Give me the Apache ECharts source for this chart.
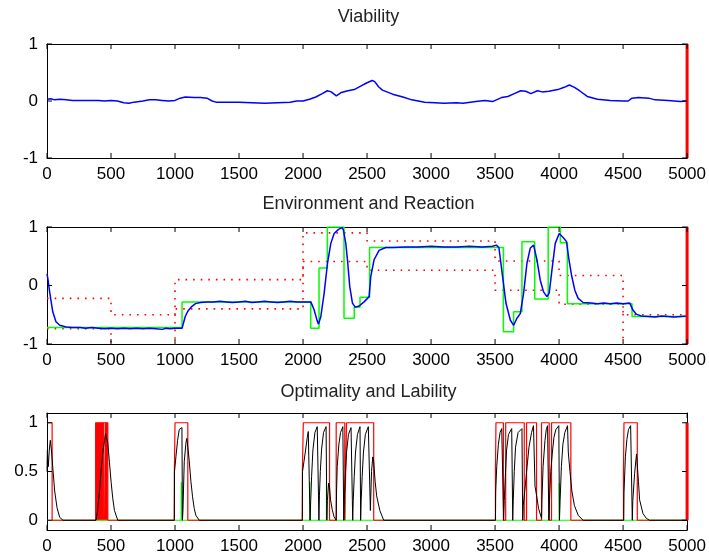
<!DOCTYPE html>
<html><head><meta charset="utf-8">
<script src="https://cdn.jsdelivr.net/npm/echarts@6/dist/echarts.min.js"></script>
<style>html,body{margin:0;padding:0;background:#fff}#c{width:709px;height:558px}</style>
</head><body><div id="c"></div>
<script>
// ---------- DATA ----------
const panelTitles = ['Viability', 'Environment and Reaction', 'Optimality and Lability'];
const xTickStep = 500;
const xMin = 0, xMax = 5000;
const xTickValues = [0, 500, 1000, 1500, 2000, 2500, 3000, 3500, 4000, 4500, 5000];
const yTickValues = [[-1, 0, 1], [-1, 0, 1], [0, 0.5, 1]];
const endMarkX = 5000;

// Panel 1: viability (blue)
const viability = [[0,0.03],[30,0.04],[60,0.02],[100,0.03],[150,0.02],[200,0.01],[300,0.01],[400,0.01],[450,0.0],[500,0.01],[550,0.0],[600,-0.03],[640,-0.04],[680,-0.02],[750,0.0],[800,0.02],[850,0.02],[900,0.01],[950,0.0],[1000,0.01],[1040,0.05],[1080,0.07],[1150,0.06],[1200,0.06],[1250,0.05],[1290,0.0],[1320,-0.02],[1400,-0.02],[1500,-0.02],[1600,-0.03],[1700,-0.04],[1800,-0.03],[1900,-0.02],[1950,0.0],[2000,0.0],[2050,0.03],[2100,0.07],[2150,0.13],[2190,0.18],[2220,0.16],[2260,0.09],[2300,0.15],[2350,0.18],[2400,0.2],[2450,0.26],[2500,0.32],[2540,0.36],[2560,0.34],[2590,0.25],[2620,0.19],[2700,0.12],[2780,0.07],[2850,0.02],[2950,-0.02],[3030,-0.03],[3100,-0.04],[3200,-0.03],[3250,-0.04],[3350,-0.01],[3420,0.01],[3480,-0.01],[3550,0.06],[3600,0.08],[3650,0.13],[3700,0.18],[3740,0.17],[3780,0.13],[3830,0.18],[3870,0.16],[3920,0.17],[3990,0.2],[4040,0.24],[4080,0.28],[4120,0.24],[4160,0.18],[4220,0.08],[4300,0.03],[4400,0.01],[4500,0.0],[4540,0.0],[4570,0.05],[4620,0.06],[4700,0.05],[4750,0.02],[4850,0.01],[4950,-0.01],[5000,0.0]];

// Panel 2: environment bounds (red dotted), target (green), reaction (blue)
const envTimes = [0, 500, 1000, 2000, 2500, 3500, 4000, 4500, 5000];
const envUpper = [-0.22, -0.5, 0.1, 0.9, 0.76, 0.42, 0.17, -0.5, -0.5];
const envLower = [-0.74, -1.03, -0.4, 0.41, 0.26, -0.08, -0.32, -1.03, -1.03];
const targetTimes = [0, 1055, 2060, 2125, 2190, 2320, 2400, 2445, 2520, 3565, 3645, 3710, 3810, 3915, 4010, 4065, 4570, 5000];
const targetValues = [-0.72, -0.28, -0.73, 0.3, 1.0, -0.56, -0.37, -0.2, 0.65, -0.79, -0.45, 0.75, -0.23, 1.0, 0.73, -0.31, -0.53, -0.53];
const reaction = [[0,0.2],[8,0.1],[20,-0.1],[45,-0.45],[70,-0.62],[100,-0.68],[150,-0.71],[200,-0.72],[260,-0.72],[300,-0.73],[350,-0.72],[400,-0.73],[450,-0.74],[500,-0.73],[550,-0.74],[600,-0.73],[650,-0.74],[700,-0.73],[750,-0.74],[800,-0.73],[850,-0.74],[900,-0.75],[930,-0.73],[960,-0.74],[1000,-0.73],[1055,-0.73],[1065,-0.65],[1080,-0.53],[1100,-0.44],[1130,-0.36],[1160,-0.31],[1200,-0.29],[1250,-0.28],[1300,-0.28],[1350,-0.27],[1400,-0.28],[1450,-0.29],[1500,-0.28],[1550,-0.27],[1600,-0.29],[1650,-0.28],[1700,-0.27],[1750,-0.28],[1800,-0.29],[1850,-0.28],[1900,-0.27],[1950,-0.28],[2000,-0.28],[2061,-0.28],[2087,-0.42],[2110,-0.6],[2121,-0.66],[2139,-0.53],[2165,-0.13],[2191,0.38],[2217,0.72],[2243,0.89],[2277,0.96],[2305,0.99],[2315,0.95],[2334,0.72],[2347,0.44],[2365,-0.02],[2386,-0.3],[2407,-0.37],[2438,-0.35],[2477,-0.28],[2516,-0.19],[2529,0.15],[2555,0.44],[2594,0.6],[2646,0.65],[2700,0.65],[2800,0.66],[2900,0.66],[3000,0.67],[3100,0.66],[3200,0.66],[3300,0.67],[3400,0.66],[3480,0.67],[3510,0.69],[3530,0.65],[3559,0.15],[3585,-0.3],[3619,-0.59],[3645,-0.68],[3671,-0.56],[3697,-0.48],[3723,-0.13],[3749,0.38],[3775,0.64],[3801,0.69],[3827,0.44],[3853,0.09],[3879,-0.11],[3905,-0.19],[3923,-0.13],[3944,0.26],[3970,0.72],[4001,0.89],[4032,0.82],[4058,0.75],[4076,0.46],[4097,0.18],[4123,-0.08],[4149,-0.22],[4188,-0.29],[4250,-0.3],[4300,-0.31],[4350,-0.3],[4400,-0.31],[4450,-0.3],[4500,-0.31],[4552,-0.3],[4577,-0.42],[4603,-0.49],[4642,-0.52],[4700,-0.53],[4750,-0.54],[4800,-0.52],[4850,-0.53],[4900,-0.54],[4950,-0.53],[5000,-0.52]];

// Panel 3: optimality (black), lability (red), green spikes
const optimality = [[0,0.5],[3,0.72],[10,0.55],[18,0.72],[26,0.82],[36,0.7],[47,0.51],[60,0.3],[78,0.13],[99,0.03],[125,0],
[383,0],[395,0.1],[410,0.3],[425,0.55],[436,0.7],[450,0.82],[457,0.89],[465,0.87],[475,0.79],[488,0.59],[501,0.39],[514,0.22],[527,0.1],[553,0],
[994,0],[996,0.5],[1007,0.65],[1020,0.82],[1033,0.93],[1054,0.95],[1058,0],[1062,0.1],[1072,0.6],[1085,0.79],[1092,0.84],[1100,0.75],[1111,0.61],[1124,0.4],[1137,0.24],[1150,0.12],[1163,0.05],[1189,0],
[1994,0],[1996,0.5],[2007,0.6],[2020,0.72],[2033,0.85],[2041,0.91],[2051,0.93],[2055,0],
[2060,0.2],[2067,0.45],[2077,0.72],[2093,0.9],[2111,0.96],[2121,0.96],[2124,0],
[2128,0.25],[2135,0.5],[2145,0.73],[2160,0.9],[2180,0.96],[2186,0],
[2190,0.2],[2200,0.38],[2207,0.34],[2215,0.21],[2228,0.11],[2241,0.04],[2259,0],
[2262,0.3],[2267,0.55],[2280,0.78],[2293,0.9],[2311,0.96],[2318,0],
[2322,0.2],[2330,0.45],[2340,0.7],[2355,0.88],[2375,0.95],[2385,0.96],[2388,0],
[2392,0.2],[2400,0.45],[2410,0.7],[2425,0.88],[2445,0.96],[2450,0],
[2454,0.2],[2462,0.45],[2472,0.7],[2487,0.88],[2510,0.96],[2520,0.96],[2526,0.1],[2535,0.5],[2545,0.65],[2552,0.6],[2563,0.4],[2575,0.25],[2600,0.1],[2630,0],
[3503,0],[3505,0.3],[3513,0.55],[3526,0.78],[3539,0.9],[3552,0.94],[3565,0.94],[3567,0],
[3572,0.2],[3580,0.45],[3590,0.72],[3605,0.88],[3630,0.94],[3638,0],
[3642,0.2],[3650,0.5],[3660,0.75],[3680,0.9],[3710,0.94],[3716,0],
[3720,0.15],[3733,0.31],[3750,0.55],[3765,0.75],[3785,0.9],[3800,0.97],[3812,0.35],[3825,0.25],[3840,0.12],[3863,0.02],[3866,0.2],[3875,0.55],[3890,0.82],[3900,0.93],[3910,0.97],[3920,0],
[3925,0.2],[3935,0.5],[3948,0.7],[3960,0.85],[3975,0.93],[3998,0.97],[4003,0],
[4008,0.2],[4018,0.55],[4030,0.78],[4045,0.9],[4066,0.97],[4072,0.7],[4085,0.5],[4100,0.3],[4120,0.15],[4150,0.05],[4188,0],
[4505,0],[4507,0.28],[4518,0.65],[4530,0.83],[4542,0.93],[4559,0.97],[4572,0],
[4576,0.2],[4590,0.48],[4605,0.68],[4611,0.66],[4620,0.4],[4629,0.21],[4655,0.07],[4681,0.02],[4707,0],[5000,0]];
const labilityTimes = [0, 40, 380, 475, 995, 1000, 1100, 1995, 2002, 2207, 2259, 2326, 2340, 2552, 3503, 3507, 3565, 3583, 3728, 3746, 3824, 3863, 3923, 3941, 4092, 4503, 4507, 4611, 5000];
const labilityValues = [1, 0, 1, 0, 0.5, 1, 0, 0.5, 1, 0, 1, 0, 1, 0, 0.5, 1, 0, 1, 0, 1, 0, 1, 0, 1, 0, 0.5, 1, 0, 0];
const labilityDense = [[380,0],[380,1],[445,1],[445,0],[450,0],[450,1],[475,1],[475,0]];
const spikeTimes = [1049, 2053, 2183, 2326, 4001];
const spikeHeights = [0.39, 0.39, 0.39, 0.28, 0.38];

// ---------- BUILD ----------
const zip = (xs, ys) => xs.map((x, i) => [x, ys[i]]);
const greenSpikes = [[0, 0]];
spikeTimes.forEach((t, i) => { greenSpikes.push([t, 0], [t, spikeHeights[i]], [t + 1, 0]); });
greenSpikes.push([5000, 0]);

const FONT = 'Liberation Sans, Arial, sans-serif';
const grids = [
  {left: 47, width: 642, top: 44, height: 114},
  {left: 47, width: 642, top: 227, height: 117},
  {left: 47, width: 642, top: 413, height: 117}
].map(g => Object.assign(g, {show: false, containLabel: false}));

const mkLine = () => ({show: true, onZero: false, lineStyle: {color: '#000', width: 1}});
const xAxis = [], yAxis = [];
const yCfg = [
  {min: -1, max: 1},
  {min: -1, max: 1},
  {min: -0.1, max: 1.1}
];
for (let g = 0; g < 3; g++) {
  xAxis.push({type: 'value', gridIndex: g, min: xMin, max: xMax, interval: xTickStep, position: 'bottom',
    axisLine: mkLine(), splitLine: {show: false}, axisTick: {show: false},
    axisLabel: {show: true, color: '#000', fontFamily: FONT, fontSize: 17, margin: 8, showMinLabel: true, showMaxLabel: true,
      formatter: v => String(v)}});
  xAxis.push({type: 'value', gridIndex: g, min: xMin, max: xMax, interval: xTickStep, position: 'top',
    axisLine: mkLine(), splitLine: {show: false}, axisTick: {show: false}, axisLabel: {show: false}});
  const c = yCfg[g];
  yAxis.push({type: 'value', gridIndex: g, min: c.min, max: c.max, position: 'left',
    axisLine: mkLine(), splitLine: {show: false}, axisTick: {show: false},
    axisLabel: {show: true, customValues: yTickValues[g].slice(), color: '#000', fontFamily: FONT, fontSize: 17, margin: 9,
      formatter: v => String(v)}});
  yAxis.push({type: 'value', gridIndex: g, min: c.min, max: c.max, position: 'right',
    axisLine: mkLine(), splitLine: {show: false}, axisTick: {show: false}, axisLabel: {show: false}});
}

const base = {type: 'line', showSymbol: false, symbol: 'none', animation: false, clip: true, silent: true};
const ln = (g, data, color, width, extra) => Object.assign({}, base, {xAxisIndex: 2 * g, yAxisIndex: 2 * g, data,
  lineStyle: {color, width}}, extra || {});

// inward tick marks on all four sides, placed through the axes' own scales
const TICK_LEN = 5;
function tickSeries(g) {
  const c = yCfg[g];
  const data = xTickValues.map(v => [v, 0, 0]).concat(yTickValues[g].map(v => [xMin, v, 1]));
  return {
    type: 'custom', xAxisIndex: 2 * g, yAxisIndex: 2 * g, silent: true, clip: false, z: 10, animation: false,
    encode: {x: 0, y: 1}, data,
    renderItem: (params, api) => {
      const st = {stroke: '#000', lineWidth: 1};
      if (api.value(2) === 0) {
        const v = api.value(0);
        const b = api.coord([v, c.min]), t = api.coord([v, c.max]);
        return {type: 'group', children: [
          {type: 'line', shape: {x1: b[0], y1: b[1], x2: b[0], y2: b[1] - TICK_LEN}, style: st},
          {type: 'line', shape: {x1: t[0], y1: t[1], x2: t[0], y2: t[1] + TICK_LEN}, style: st}]};
      }
      const v = api.value(1);
      const l = api.coord([xMin, v]), r = api.coord([xMax, v]);
      return {type: 'group', children: [
        {type: 'line', shape: {x1: l[0], y1: l[1], x2: l[0] + TICK_LEN, y2: l[1]}, style: st},
        {type: 'line', shape: {x1: r[0], y1: r[1], x2: r[0] - TICK_LEN, y2: r[1]}, style: st}]};
    }
  };
}

const series = [
  ln(0, viability, '#0000ff', 1.5),
  ln(0, [[endMarkX, -1], [endMarkX, 1]], '#ff0000', 3),

  ln(1, zip(envTimes, envUpper), '#ff0000', 1.5, {step: 'end', lineStyle: {color: '#ff0000', width: 1.6, type: [1.6, 6]}}),
  ln(1, zip(envTimes, envLower), '#ff0000', 1.5, {step: 'end', lineStyle: {color: '#ff0000', width: 1.6, type: [1.6, 6]}}),
  ln(1, zip(targetTimes, targetValues), '#00ff00', 1.5, {step: 'end'}),
  ln(1, reaction, '#0000ff', 1.5),
  ln(1, [[endMarkX, -1], [endMarkX, 1]], '#ff0000', 3),

  ln(2, greenSpikes, '#00ff00', 1.2),
  ln(2, labilityDense, '#ff0000', 0, {areaStyle: {color: '#ff0000', opacity: 1, origin: 0}}),
  ln(2, zip(labilityTimes, labilityValues), '#ff0000', 1.2, {step: 'end'}),
  ln(2, optimality, '#000000', 1),
  ln(2, [[endMarkX, 0], [endMarkX, 1]], '#ff0000', 3),

  tickSeries(0), tickSeries(1), tickSeries(2)
];

const titleY = [17, 204, 392];
const graphic = panelTitles.map((t, i) => ({type: 'text', x: 368.5, y: titleY[i], silent: true,
  style: {text: t, fill: '#222', font: '18px ' + FONT, textAlign: 'center', textVerticalAlign: 'middle'}}));

const chart = echarts.init(document.getElementById('c'), null, {renderer: 'canvas'});
chart.setOption({animation: false, grid: grids, xAxis, yAxis, series, graphic});
</script></body></html>
